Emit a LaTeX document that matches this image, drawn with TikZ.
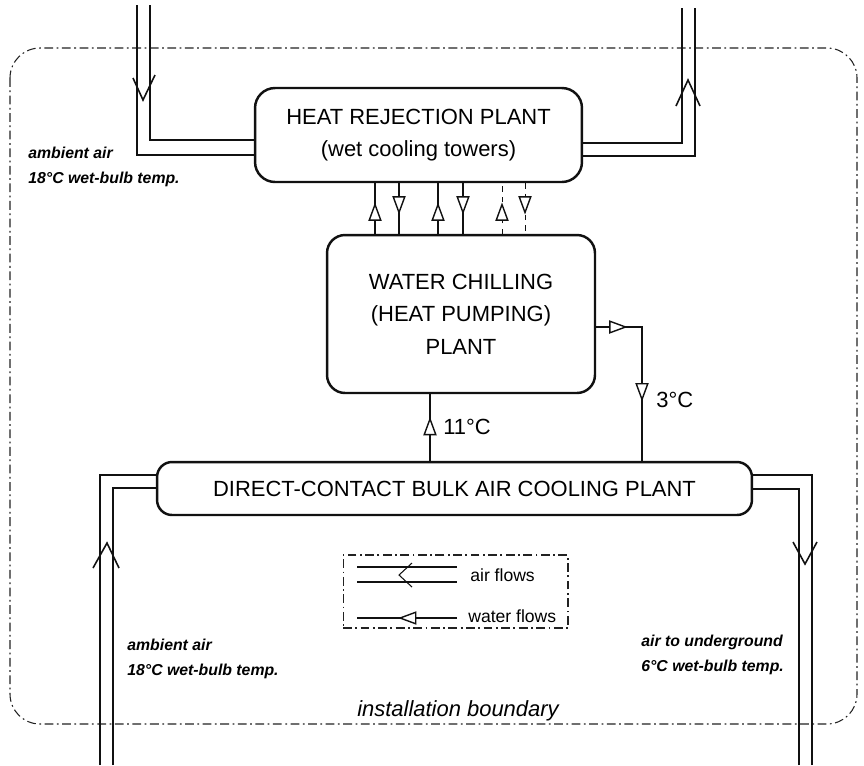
\documentclass[tikz,border=0pt]{standalone}
\usepackage{fontspec}
\setmainfont{Liberation Sans}
\usepackage{xcolor}
\usetikzlibrary{arrows.meta,positioning,decorations.markings}
\definecolor{inkblack}{HTML}{111111}
\definecolor{bndgray}{HTML}{222222}

\begin{document}
\begin{tikzpicture}[x=0.02cm,y=-0.02cm,
  plant/.style={draw=inkblack,line width=1.4pt,rounded corners=0.4cm,align=center,font=\fontsize{12.5}{18.5}\selectfont},
  airline/.style={draw=inkblack,line width=0.9pt},
  waterline/.style={draw=inkblack,line width=0.8pt},
  flowat/.style={postaction={decorate,decoration={markings,mark=at position #1 with {\arrow{Triangle[fill=white,length=10.5pt,width=7.5pt,line width=0.8pt]}}}}},
  boundline/.style={draw=bndgray,line width=0.6pt,dash pattern=on 5pt off 2pt on 1pt off 2pt},
  note/.style={font=\fontsize{9}{14.5}\selectfont\bfseries\itshape,align=left,anchor=west,inner sep=0pt},
  temp/.style={font=\fontsize{12.5}{15}\selectfont,anchor=west,inner sep=0pt}]
  \useasboundingbox (0,0) rectangle (864,765);

  % installation boundary
  \draw[boundline,rounded corners=0.6cm] (10,48) rectangle (857,724);
  \node[font=\fontsize{12.5}{15}\selectfont\itshape] (bnd) at (458,711) {installation boundary};

  % the three plants
  \node[plant,minimum width=6.54cm,minimum height=1.88cm] (hr) at (418.5,135) {HEAT REJECTION PLANT\\(wet cooling towers)};
  \node[plant,minimum width=5.36cm,minimum height=3.16cm,rounded corners=0.36cm] (wc) at (461,314) {WATER CHILLING\\(HEAT PUMPING)\\PLANT};
  \node[plant,minimum width=11.9cm,minimum height=1.06cm,rounded corners=0.3cm] (dc) at (454.5,488.5) {DIRECT-CONTACT BULK AIR COOLING PLANT};

  % air through the cooling towers
  \coordinate (airTLa) at (137,5);
  \coordinate (airTLb) at (150,5);
  \coordinate (airTRa) at (682,8);
  \coordinate (airTRb) at (695,8);
  \draw[airline] (airTLa) |- (hr.west |- 0,155);
  \draw[airline] (airTLb) |- (hr.west |- 0,140);
  \draw[airline] (airTRb) |- (hr.east |- 0,156);
  \draw[airline] (airTRa) |- (hr.east |- 0,143);
  \draw[airline] (133,78) -- (143,100) -- (155,75);
  \draw[airline] (676,106) -- (688,80) -- (700,106);
  \node[note] (ambtop) at (28,167) {ambient air\\18°C wet-bulb temp.};

  % air through the bulk cooler
  \coordinate (airBLa) at (100,765);
  \coordinate (airBLb) at (113,765);
  \coordinate (airBRa) at (799,765);
  \coordinate (airBRb) at (812,765);
  \draw[airline] (airBLa) |- (dc.west |- 0,475);
  \draw[airline] (airBLb) |- (dc.west |- 0,488);
  \draw[airline] (airBRb) |- (dc.east |- 0,475);
  \draw[airline] (airBRa) |- (dc.east |- 0,489);
  \draw[airline] (93,568) -- (107,543) -- (119,568);
  \draw[airline] (793,542) -- (805,564) -- (817,542);
  \node[note] (ambbot) at (127,659) {ambient air\\18°C wet-bulb temp.};
  \node[note] (airout) at (641,655) {air to underground\\6°C wet-bulb temp.};

  % condenser water between chiller and towers
  \foreach \x in {375,438}
    \draw[waterline,flowat=0.62] (wc.north -| \x,0) -- (hr.south -| \x,0);
  \foreach \x in {399,463}
    \draw[waterline,flowat=0.62] (hr.south -| \x,0) -- (wc.north -| \x,0);
  \draw[waterline,line width=0.5pt,dashed,flowat=0.62] (wc.north -| 502,0) -- (hr.south -| 502,0);
  \draw[waterline,line width=0.5pt,dashed,flowat=0.62] (hr.south -| 525,0) -- (wc.north -| 525,0);

  % chilled water loop
  \draw[waterline,flowat=0.66] (dc.north -| 430,0) -- (wc.south -| 430,0);
  \node[temp] (t11) at (443,427) {11°C};
  \draw[waterline,flowat=0.175,flowat=0.67] (wc.east |- 0,327) -| (dc.north -| 642,0);
  \node[temp] (t3) at (656,400) {3°C};

  % key
  \node[boundline,minimum width=4.5cm,minimum height=1.46cm] (key) at (455.5,591.5) {};
  \node[font=\fontsize{10}{12}\selectfont,anchor=west,inner sep=0pt] (airkey) at (470,575) {air flows};
  \node[font=\fontsize{10}{12}\selectfont,anchor=west,inner sep=0pt] (waterkey) at (468,616) {water flows};
  \draw[airline,line width=0.7pt] (357,567) -- (457,567);
  \draw[airline,line width=0.7pt] (357,582) -- (457,582);
  \draw[airline,line width=0.6pt] (412,563) -- (399,575) -- (412,587);
  \draw[waterline,flowat=0.59] (457,618) -- (357,618);
\end{tikzpicture}
\end{document}
